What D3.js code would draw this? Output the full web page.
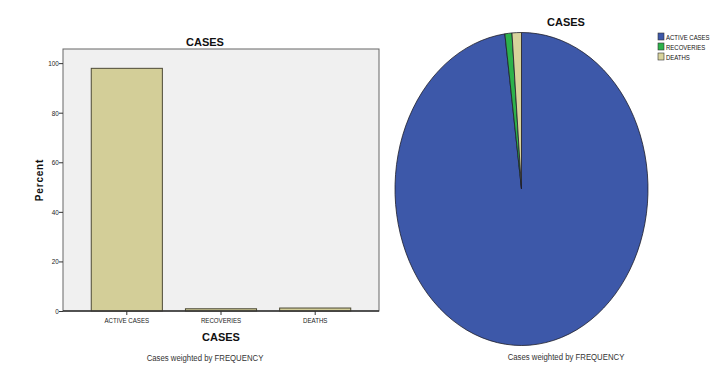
<!DOCTYPE html>
<html>
<head>
<meta charset="utf-8">
<script src="https://cdn.jsdelivr.net/npm/d3@7"></script>
<style>
  body { margin: 0; background: #fff; }
  text { font-family: "Liberation Sans", Arial, sans-serif; fill: #111; }
  .title { font-size: 11px; font-weight: bold; }
  .tick text { font-size: 7.5px; fill: #222; }
  .note { font-size: 9.5px; fill: #333; }
  .legend text { font-size: 7.5px; }
</style>
</head>
<body>
<svg width="716" height="373"></svg>
<script>
// values
var categories = ["ACTIVE CASES", "RECOVERIES", "DEATHS"];
var percents = [97.9, 0.9, 1.2];
var yTicks = [0, 20, 40, 60, 80, 100];
var pieColors = ["#3d58a9", "#2db24b", "#d8d39c"];

var svg = d3.select("svg");

// ---- bar chart ----
var plotLeft = 63, plotRight = 379, plotTop = 49, plotBottom = 311;

var x = d3.scaleBand().domain(categories).range([plotLeft, plotRight])
    .paddingInner(0.245).paddingOuter(0.3);
var y = d3.scaleLinear().domain([0, 105.7]).range([plotBottom, plotTop]);

svg.append("rect")
    .attr("x", plotLeft).attr("y", plotTop)
    .attr("width", plotRight - plotLeft).attr("height", plotBottom - plotTop)
    .attr("fill", "#f0f0f0").attr("stroke", "#666").attr("stroke-width", 1);

svg.selectAll(".bar")
    .data(categories)
    .enter()
    .append("rect")
    .attr("class", "bar")
    .attr("x", function (d) { return x(d); })
    .attr("y", function (d, i) { return y(percents[i]); })
    .attr("width", x.bandwidth())
    .attr("height", function (d, i) { return plotBottom - y(percents[i]); })
    .attr("fill", "#d3ce98")
    .attr("stroke", "#4d4a36")
    .attr("stroke-width", 1);

var yAxis = svg.append("g")
    .attr("transform", "translate(" + plotLeft + ",0)")
    .call(d3.axisLeft(y).tickValues(yTicks).tickSize(4).tickPadding(1));
yAxis.select(".domain").remove();
yAxis.selectAll("line").attr("stroke", "#333");
yAxis.selectAll("text").attr("transform", "scale(0.85,1)");

var xAxis = svg.append("g")
    .attr("transform", "translate(0," + plotBottom + ")")
    .call(d3.axisBottom(x).tickSize(4).tickPadding(3));
xAxis.select(".domain").attr("stroke", "#333").attr("stroke-width", 1.5)
    .attr("d", "M" + plotLeft + ",0H" + plotRight);
xAxis.selectAll("line").attr("stroke", "#333");
// reference uses a condensed face
xAxis.selectAll("text").attr("transform", "scale(0.82,1)");

svg.append("text").attr("class", "title")
    .attr("x", 205).attr("y", 46).attr("text-anchor", "middle").text("CASES");
svg.append("text").attr("class", "title")
    .attr("x", 221).attr("y", 341).attr("text-anchor", "middle").text("CASES");
svg.append("text").attr("class", "title")
    .attr("transform", "translate(43,180) rotate(-90)")
    .attr("text-anchor", "middle").style("font-size", "10px")
    .style("letter-spacing", "0.8px").text("Percent");
svg.append("text").attr("class", "note")
    .attr("transform", "translate(205,361) scale(0.82,1)")
    .attr("text-anchor", "middle")
    .text("Cases weighted by FREQUENCY");

// ---- pie chart (stretched into an ellipse) ----
var cx = 521.5, cy = 189, rx = 126.5, ry = 156.5;

var pie = d3.pie().sort(null).value(function (d) { return d; });
var arc = d3.arc().innerRadius(0).outerRadius(ry);

var pg = svg.append("g")
    .attr("transform", "translate(" + cx + "," + cy + ") scale(" + (rx / ry) + ",1)");

pg.selectAll(".slice")
    .data(pie(percents))
    .enter()
    .append("path")
    .attr("class", "slice")
    .attr("d", arc)
    .attr("fill", function (d, i) { return pieColors[i]; })
    .attr("stroke", "#1e1e2a")
    .attr("stroke-width", 0.8)
    .attr("vector-effect", "non-scaling-stroke");

svg.append("text").attr("class", "title")
    .attr("x", 566).attr("y", 26).attr("text-anchor", "middle").text("CASES");
svg.append("text").attr("class", "note")
    .attr("transform", "translate(566,360) scale(0.82,1)")
    .attr("text-anchor", "middle")
    .text("Cases weighted by FREQUENCY");

var legend = svg.selectAll(".legend")
    .data(categories)
    .enter()
    .append("g")
    .attr("class", "legend")
    .attr("transform", function (d, i) { return "translate(658," + (33 + i * 10) + ")"; });

legend.append("rect")
    .attr("width", 6).attr("height", 7)
    .attr("fill", function (d, i) { return pieColors[i]; })
    .attr("stroke", "#333").attr("stroke-width", 0.6);
legend.append("text")
    .attr("transform", "translate(8,6.5) scale(0.8,1)")
    .text(function (d) { return d; });
</script>
</body>
</html>
